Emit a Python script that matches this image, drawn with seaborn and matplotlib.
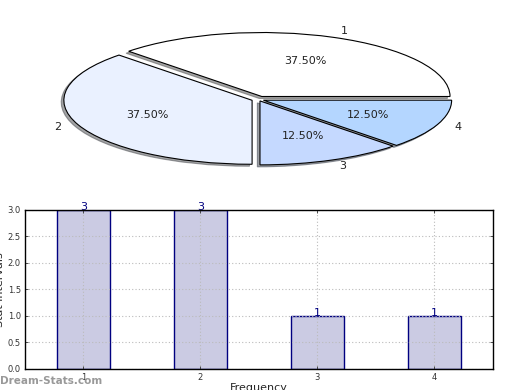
import matplotlib
matplotlib.use("Agg")
import pandas as pd
import matplotlib.pyplot as plt
import seaborn as sns

# data
categories = ["1", "2", "3", "4"]
counts = [3, 3, 1, 1]
pie_colors = ["#ffffff", "#eaf1ff", "#c5d9ff", "#b4d6ff"]
explode = [0.05, 0.035, 0.025, 0.03]
y_ticks = [0.0, 0.5, 1.0, 1.5, 2.0, 2.5, 3.0]

sns.set_theme(style="white")
plt.rcParams["font.family"] = ["DejaVu Sans"]

fig = plt.figure(figsize=(5.2, 3.9), dpi=100)

# pie on top, squashed (aspect not equal)
ax1 = fig.add_axes([0.044, 0.54, 0.905, 0.41])
wedges, texts, autotexts = ax1.pie(
    counts, labels=categories, colors=pie_colors, explode=explode,
    autopct="%.2f%%", pctdistance=0.6, labeldistance=1.1,
    startangle=0, shadow={"ox": -0.01, "oy": -0.022},
    wedgeprops={"edgecolor": "black", "linewidth": 0.8},
    textprops={"fontsize": 8, "color": "#222222"},
)
ax1.set_aspect("auto")
ax1.set_xlim(-1.25, 1.25)
ax1.set_ylim(-1.25, 1.25)
ax1.axis("off")

# bar chart below
ax2 = fig.add_axes([0.048, 0.054, 0.9, 0.408])
df = pd.DataFrame({"Frequency": categories, "Count": counts})
sns.barplot(data=df, x="Frequency", y="Count", color="#cbcbe3", saturation=1,
            edgecolor="#000080", linewidth=1, width=0.45, ax=ax2)
for i, v in enumerate(counts):
    ax2.text(i, v, str(v), ha="center", va="baseline", fontsize=8, color="#000080")

ax2.set_xlim(-0.5, 3.5)
ax2.set_ylim(0, 3)
ax2.set_yticks(y_ticks)
ax2.set_yticklabels([f"{t:.1f}" for t in y_ticks])
ax2.tick_params(axis="both", labelsize=6, direction="in", length=2, width=0.6,
                colors="#333333", top=True, right=True, left=True, bottom=True, pad=3)
ax2.grid(True, linestyle=(0, (1, 2)), color="#bbbbbb", linewidth=0.8)
ax2.set_axisbelow(False)
for s in ax2.spines.values():
    s.set_color("black")
    s.set_linewidth(1)
    s.set_zorder(5)
ax2.set_xlabel("Frequency", fontsize=8, labelpad=1)
ax2.set_ylabel("Stat intervals", fontsize=8, labelpad=2)

fig.text(0.0, 0.022, "Dream-Stats.com", fontsize=7.5, color="#999999",
         fontweight="bold", ha="left", va="center")

fig.savefig("out.png", dpi=100)
